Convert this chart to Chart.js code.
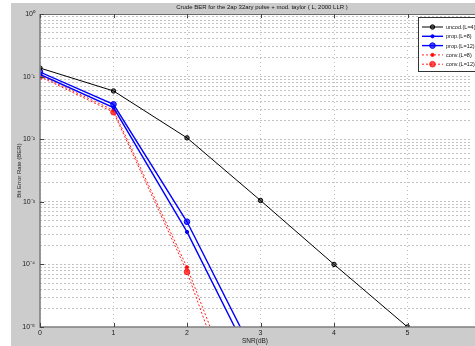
<!DOCTYPE html>
<html>
<head>
<meta charset="utf-8">
<script src="https://cdn.jsdelivr.net/npm/chart.js@4/dist/chart.umd.min.js"></script>
<style>
  html, body { margin: 0; padding: 0; background: #fff; overflow: hidden; }
  #wrap { width: 475px; height: 346px; position: relative; }
</style>
</head>
<body>
<div id="wrap"><canvas id="c" width="475" height="346"></canvas></div>
<script>
// SNR axis (dB) and bit error rates per scheme
const snrDb = [0, 1, 2, 3, 4, 5];
const uncodedBer = [0.137, 0.059, 0.0105, 1.05e-3, 1.0e-4, 1.0e-5];
const propL8Ber  = [0.108, 0.032, 3.3e-4, 1.5e-6];
const propL12Ber = [0.118, 0.036, 4.8e-4, 2.3e-6];
const convL8Ber  = [0.104, 0.029, 9.0e-5, 8.5e-8];
const convL12Ber = [0.100, 0.027, 7.6e-5, 4.0e-8];
const seriesLabels = ['uncod.(L=4)', 'prop.(L=8)', 'prop.(L=12)', 'conv.(L=8)', 'conv.(L=12)'];
const xTickValues = [0, 1, 2, 3, 4, 5];
const decadeExponents = [0, -1, -2, -3, -4, -5];
const titleText = 'Crude BER for the 2ap 32ary pulse + mod. taylor ( L, 2000 LLR )';
const xTitle = 'SNR(dB)';
const yTitle = 'Bit Error Rate (BER)';

const FONT = '"Liberation Sans", Arial, sans-serif';
const SUP = { '0': '\u2070', '1': '\u00b9', '2': '\u00b2', '3': '\u00b3', '4': '\u2074', '5': '\u2075', '-': '\u207b' };
const decadeLabel = e => '10' + String(e).split('').map(ch => SUP[ch]).join('');

function points(values) {
  return values.map((v, i) => ({ x: snrDb[i], y: v }));
}

const seriesValues = [uncodedBer, propL8Ber, propL12Ber, convL8Ber, convL12Ber];
const seriesStyles = [
  { color: '#000000', width: 1,   dash: [],     radius: 2.2, fill: 'rgba(0,0,0,0.55)' },
  { color: '#0000ff', width: 1.4, dash: [],     radius: 1.6, fill: '#0000ff' },
  { color: '#0000ff', width: 1.4, dash: [],     radius: 2.8, fill: 'rgba(0,0,255,0.7)' },
  { color: '#ff2020', width: 1,   dash: [2, 2], radius: 1.6, fill: '#ff0000' },
  { color: '#ff2020', width: 1,   dash: [2, 2], radius: 2.8, fill: 'rgba(255,0,0,0.7)' }
];

const datasets = seriesValues.map((vals, i) => ({
  label: seriesLabels[i],
  data: points(vals),
  borderColor: seriesStyles[i].color,
  borderWidth: seriesStyles[i].width,
  borderDash: seriesStyles[i].dash,
  pointRadius: seriesStyles[i].radius,
  pointBackgroundColor: seriesStyles[i].fill,
  pointBorderColor: seriesStyles[i].color,
  pointBorderWidth: 1,
  pointStyle: 'circle',
  tension: 0,
  cubicInterpolationMode: 'default',
  fill: false
}));

// figure background, white axes box, frame, ticks, title and legend
const figurePlugin = {
  id: 'figure',
  beforeDraw(chart) {
    const { ctx, chartArea: a } = chart;
    ctx.save();
    ctx.fillStyle = '#ffffff';
    ctx.fillRect(0, 0, chart.width, chart.height);
    ctx.fillStyle = '#cccccc';
    ctx.fillRect(11, 3, chart.width - 11, chart.height - 3);
    ctx.fillStyle = '#ffffff';
    ctx.fillRect(a.left, a.top, chart.width - a.left, a.bottom - a.top);
    ctx.restore();
  },
  afterDraw(chart) {
    const { ctx, chartArea: a, scales } = chart;
    ctx.save();
    // frame
    ctx.strokeStyle = '#6a6a6a';
    ctx.lineWidth = 1;
    ctx.beginPath();
    ctx.moveTo(a.left, a.top + 0.5); ctx.lineTo(chart.width, a.top + 0.5);
    ctx.stroke();
    ctx.strokeStyle = '#808080';
    ctx.lineWidth = 1.6;
    ctx.beginPath();
    ctx.moveTo(a.left, a.top); ctx.lineTo(a.left, a.bottom); ctx.lineTo(chart.width, a.bottom);
    ctx.stroke();
    // inward tick marks
    ctx.strokeStyle = '#444';
    ctx.lineWidth = 1;
    ctx.beginPath();
    xTickValues.forEach(v => {
      const px = Math.round(scales.x.getPixelForValue(v)) + 0.5;
      ctx.moveTo(px, a.bottom); ctx.lineTo(px, a.bottom - 4);
      ctx.moveTo(px, a.top); ctx.lineTo(px, a.top + 4);
    });
    decadeExponents.forEach(e => {
      const py = Math.round(scales.y.getPixelForValue(Math.pow(10, e))) + 0.5;
      ctx.moveTo(a.left, py); ctx.lineTo(a.left + 4, py);
    });
    ctx.stroke();
    // title
    ctx.fillStyle = '#111';
    ctx.font = '6px ' + FONT;
    ctx.textAlign = 'center';
    ctx.textBaseline = 'middle';
    ctx.fillText(titleText, 262, 7);
    // legend box
    const lx = 418, ly = 17, lw = 62, lh = 54;
    ctx.fillStyle = '#ffffff';
    ctx.fillRect(lx, ly, lw, lh);
    ctx.strokeStyle = '#333';
    ctx.lineWidth = 1;
    ctx.strokeRect(lx + 0.5, ly + 0.5, lw, lh);
    chart.data.datasets.forEach((ds, i) => {
      const y = ly + 10 + i * 9.3;
      ctx.strokeStyle = ds.borderColor;
      ctx.lineWidth = ds.borderWidth;
      ctx.setLineDash(ds.borderDash);
      ctx.beginPath();
      ctx.moveTo(lx + 4, y); ctx.lineTo(lx + 25, y);
      ctx.stroke();
      ctx.setLineDash([]);
      ctx.beginPath();
      ctx.arc(lx + 14.5, y, ds.pointRadius, 0, Math.PI * 2);
      ctx.fillStyle = ds.pointBackgroundColor;
      ctx.fill();
      ctx.lineWidth = 1;
      ctx.strokeStyle = ds.pointBorderColor;
      ctx.stroke();
      ctx.fillStyle = '#111';
      ctx.font = '5.5px ' + FONT;
      ctx.textAlign = 'left';
      ctx.textBaseline = 'middle';
      ctx.fillText(ds.label, lx + 28, y + 0.5);
    });
    ctx.restore();
  }
};

const gridStyle = { color: '#c2c2c2', lineWidth: 1, drawTicks: false };

new Chart(document.getElementById('c'), {
  type: 'line',
  data: { datasets },
  options: {
    responsive: false,
    animation: false,
    devicePixelRatio: 1,
    elements: { line: { tension: 0 } },
    layout: { padding: { left: 11, top: 14, right: 0, bottom: 0 } },
    plugins: { legend: { display: false }, tooltip: { enabled: false }, title: { display: false } },
    scales: {
      x: {
        type: 'linear',
        min: 0,
        max: 5.85,
        afterBuildTicks: s => { s.ticks = xTickValues.map(v => ({ value: v })); },
        afterFit: s => { s.height = 19; },
        grid: gridStyle,
        border: { display: false, dash: [1, 3] },
        ticks: { autoSkip: false, maxRotation: 0, padding: 2, color: '#222', font: { size: 7, family: FONT },
                 callback: v => String(v) },
        title: { display: true, text: xTitle, color: '#222', font: { size: 6.5, family: FONT }, padding: { top: 0, bottom: 1 } }
      },
      y: {
        type: 'logarithmic',
        min: 1e-5,
        max: 1,
        afterBuildTicks: s => {
          const t = [];
          for (let e = -5; e <= 0; e++) {
            for (let k = 1; k <= 9; k++) {
              if (e === 0 && k > 1) break;
              t.push({ value: k * Math.pow(10, e) });
            }
          }
          s.ticks = t;
        },
        afterFit: s => { s.width = 29; },
        grid: gridStyle,
        border: { display: false, dash: [2, 2] },
        ticks: {
          autoSkip: false, padding: 5, color: '#222', font: { size: 7, family: FONT },
          callback: v => {
            const l = Math.log10(v);
            const r = Math.round(l);
            return Math.abs(l - r) < 1e-9 ? decadeLabel(r) : '';
          }
        },
        title: { display: true, text: yTitle, color: '#222', font: { size: 6, family: FONT }, padding: { top: 4.5, bottom: 0 } }
      }
    }
  },
  plugins: [figurePlugin]
});
</script>
</body>
</html>
